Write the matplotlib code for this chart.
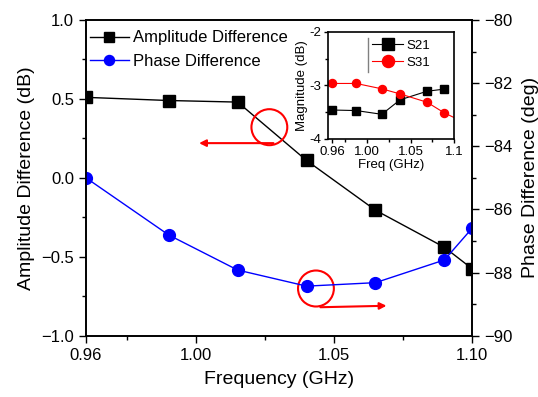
import matplotlib
matplotlib.use("Agg")
import matplotlib.pyplot as plt
from matplotlib.patches import Ellipse

plt.rcParams['font.family'] = ['Liberation Sans', 'DejaVu Sans']

# main plot data
freq = [0.96, 0.99, 1.015, 1.04, 1.065, 1.09, 1.10]
amp_diff = [0.51, 0.49, 0.48, 0.11, -0.205, -0.44, -0.575]
phase_diff = [-85.0, -86.81, -87.92, -88.43, -88.32, -87.6, -86.6]

# inset data
freq_in = [0.96, 0.9875, 1.017, 1.038, 1.069, 1.089]
s21 = [-3.46, -3.47, -3.54, -3.27, -3.11, -3.07]
freq_s31 = [0.96, 0.9875, 1.017, 1.038, 1.069, 1.089, 1.10]
s31 = [-2.965, -2.965, -3.065, -3.16, -3.315, -3.515, -3.6]

xticks = [0.96, 1.00, 1.05, 1.10]
xticklabels = ['0.96', '1.00', '1.05', '1.10']
xticklabels_in = ['0.96', '1.00', '1.05', '1.1']

fig = plt.figure(figsize=(5.38, 3.97), dpi=100)
ax = fig.add_axes([0.1599, 0.1544, 0.7174, 0.7952])
ax2 = ax.twinx()

l1, = ax.plot(freq, amp_diff, '-s', color='black', lw=1, ms=8, label='Amplitude Difference')
l2, = ax2.plot(freq, phase_diff, '-o', color='#0000FF', lw=1, ms=8.5, label='Phase Difference')

ax.set_xlim(0.96, 1.10)
ax.set_ylim(-1.0, 1.0)
ax2.set_ylim(-90, -80)
ax.set_xticks(xticks)
ax.set_xticklabels(xticklabels)
ax.set_xticks([0.975, 1.025, 1.075], minor=True)
ax.set_yticks([-1.0, -0.5, 0.0, 0.5, 1.0])
ax.set_yticks([-0.75, -0.25, 0.25, 0.75], minor=True)
ax2.set_yticks([-90, -88, -86, -84, -82, -80])
ax2.set_yticks([-89, -87, -85, -83, -81], minor=True)

for a in (ax, ax2):
    a.tick_params(which='major', length=5, width=1, labelsize=12, direction='out')
    a.tick_params(which='minor', length=3, width=1, direction='out')
    for s in a.spines.values():
        s.set_linewidth(1.2)

ax.set_xlabel('Frequency (GHz)', fontsize=14, labelpad=6)
ax.set_ylabel('Amplitude Difference (dB)', fontsize=14, labelpad=5)
ax2.set_ylabel('Phase Difference (deg)', fontsize=14, labelpad=7)

ax2.legend([l1, l2], [l1.get_label(), l2.get_label()], loc='upper left', bbox_to_anchor=(0.0, 0.98),
           frameon=False, fontsize=12, borderpad=0.25, borderaxespad=0, handlelength=2.3,
           handletextpad=0.25, labelspacing=0.5, markerscale=0.85)

# red circles and arrows
ax.add_patch(Ellipse((1.0265, 0.321), 0.013, 0.228, fill=False, edgecolor='red', lw=1.5, zorder=5))
ax.annotate('', xy=(1.0, 0.22), xytext=(1.029, 0.22),
            arrowprops=dict(arrowstyle='-|>', color='red', lw=1.5, mutation_scale=10))
ax.add_patch(Ellipse((1.0434, -0.701), 0.013, 0.228, fill=False, edgecolor='red', lw=1.5, zorder=5))
ax.annotate('', xy=(1.070, -0.81), xytext=(1.044, -0.82),
            arrowprops=dict(arrowstyle='-|>', color='red', lw=1.5, mutation_scale=10))

# inset
ax_in = fig.add_axes([0.6102, 0.6499, 0.2337, 0.2703])
i1, = ax_in.plot(freq_in, s21, '-s', color='black', lw=0.8, ms=5.3, label='S21')
i2, = ax_in.plot(freq_s31, s31, '-o', color='red', lw=0.8, ms=5.8, markevery=list(range(6)), label='S31')
ax_in.set_xlim(0.9555, 1.10)
ax_in.set_ylim(-4, -2)
ax_in.set_xticks(xticks)
ax_in.set_xticklabels(xticklabels_in)
ax_in.set_xticks([0.975, 1.025, 1.075], minor=True)
ax_in.set_yticks([-4, -3, -2])
ax_in.set_yticklabels(['-4', '-3', '-2'])
ax_in.set_yticks([-3.5, -2.5], minor=True)
ax_in.tick_params(which='major', length=3, width=1, labelsize=9.5, pad=2)
ax_in.tick_params(which='minor', length=2, width=1)
for s in ax_in.spines.values():
    s.set_linewidth(1.2)
ax_in.set_xlabel('Freq (GHz)', fontsize=9.5, labelpad=1)
ax_in.set_ylabel('Magnitude (dB)', fontsize=9.5, labelpad=1)
ax_in.legend(loc='upper left', bbox_to_anchor=(0.33, 0.95), frameon=False, fontsize=9.5,
             borderpad=0.2, borderaxespad=0, handlelength=2.3, handletextpad=0.3,
             labelspacing=0.35, markerscale=1.5)
ax_in.plot([0.316, 0.316], [0.624, 0.94], transform=ax_in.transAxes, color='gray', lw=1)

fig.savefig('out.png', dpi=100)
